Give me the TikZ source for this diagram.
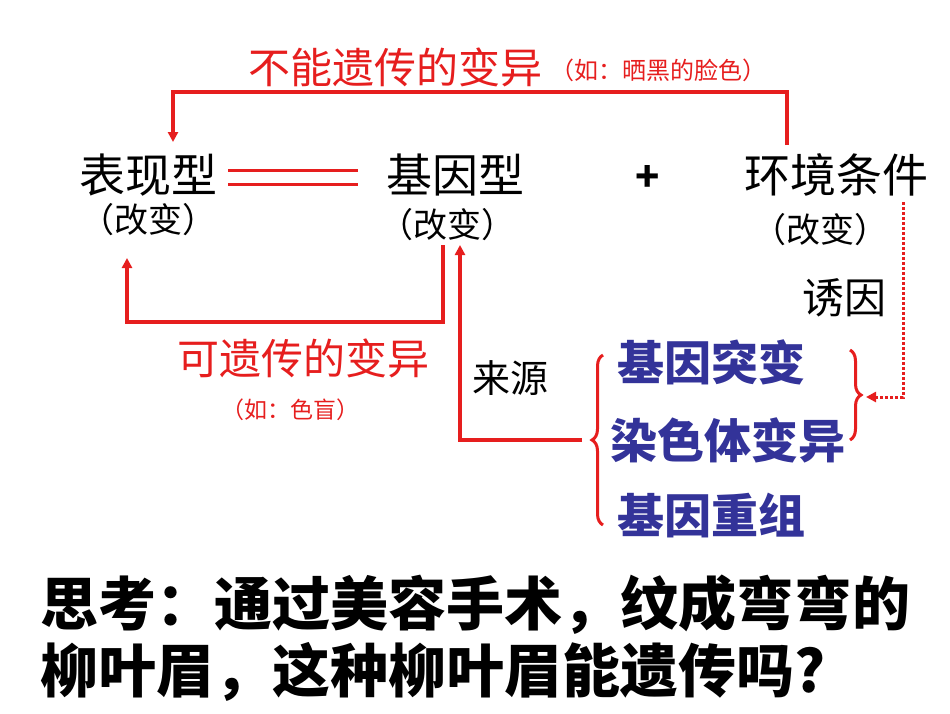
\documentclass[tikz,border=0pt]{standalone}
\usepackage{fontspec}
\setmainfont{Noto Sans CJK SC}
\usetikzlibrary{arrows.meta,decorations.pathreplacing}
\definecolor{myred}{RGB}{230,30,30}
\definecolor{myblue}{RGB}{51,51,153}
\newcommand{\fs}[1]{\fontsize{#1}{#1}\selectfont}
\begin{document}
\begin{tikzpicture}[x=1pt,y=-1pt,
  t/.style={inner sep=0pt,anchor=center},
  rl/.style={myred,line width=3.5pt},
  tip/.style={-{Triangle[length=10pt,width=10pt]}},
  br/.style={myred,line width=3pt,decorate,decoration={brace,amplitude=11pt}}]
\useasboundingbox (0,0) rectangle (950,713);
\node[t,myred] (top) at (395,67) {\fs{42}不能遗传的变异};
\node[t,myred] (topn) at (658,70) {\fs{24}（如：晒黑的脸色）};
\node[t] (bx) at (148,175) {\fs{46}表现型};
\node[t] (bxg) at (148,220) {\fs{34}（改变）};
\node[t] (jy) at (455,175) {\fs{46}基因型};
\node[t] (jyg) at (447,225) {\fs{34}（改变）};
\node[t] (plus) at (648,178) {\fs{40}\bfseries +};
\node[t] (hj) at (836,175) {\fs{46}环境条件};
\node[t] (hjg) at (820,230) {\fs{34}（改变）};
\node[t] (yy) at (844,298) {\fs{42}诱因};
\node[t,myred] (kyc) at (303,358) {\fs{42}可遗传的变异};
\node[t,myred] (kycn) at (290,410) {\fs{23}（如：色盲）};
\node[t] (ly) at (510,378) {\fs{38}来源};
\node[t,myblue,font=\bfseries] (m1) at (711,362) {\fs{47}基因突变};
\node[t,myblue,font=\bfseries] (m2) at (728,440) {\fs{47}染色体变异};
\node[t,myblue,font=\bfseries] (m3) at (711,515) {\fs{47}基因重组};
\node[t,anchor=west,font=\bfseries] (q1) at (40,605) {\fs{58}思考：通过美容手术，纹成弯弯的};
\node[t,anchor=west,font=\bfseries] (q2) at (40,672) {\fs{58}柳叶眉，这种柳叶眉能遗传吗?};
% double line
\coordinate (d1) at (228,170); \coordinate (d2) at (358,170);
\coordinate (d3) at (228,184); \coordinate (d4) at (358,184);
\draw[myred,line width=3pt] (d1) -- (d2) (d3) -- (d4);
% top arrow
\coordinate (ta) at (787,145);
\draw[rl,tip] (ta) |- (173,92) -- (173,142);
% bottom-left arrow
\draw[rl,tip] (443,245) |- (127,322) -- (127,258);
% braces
\draw[br] (603,525) -- (603,355);
\coordinate (btip) at (582,440);
\draw[rl,tip] (btip) -| (460,245);
\draw[br] (850,350) -- (850,440);
\draw[myred,line width=3pt,dotted,tip] (903,202) |- (866,397);
\end{tikzpicture}
\end{document}
